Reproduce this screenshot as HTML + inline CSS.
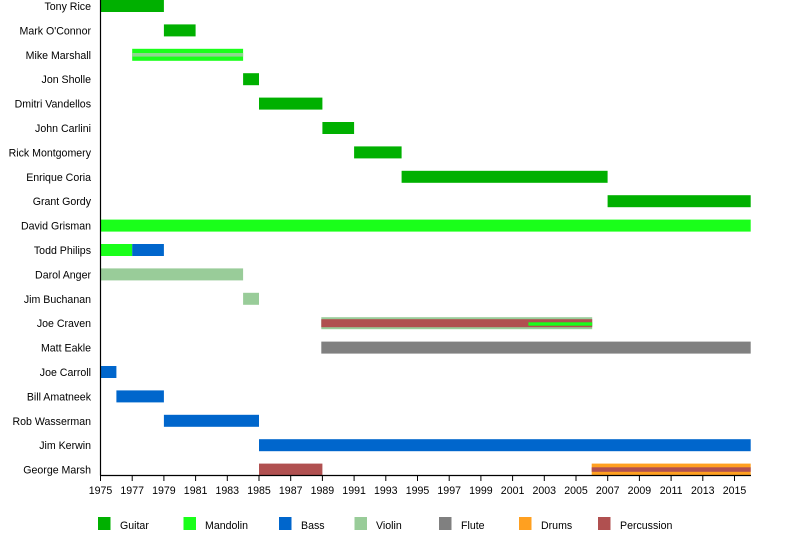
<!DOCTYPE html>
<html><head><meta charset="utf-8"><style>
html,body{margin:0;padding:0;background:#fff;}
svg{display:block;font-family:"Liberation Sans",sans-serif;}
</style></head><body>
<svg width="800" height="535" viewBox="0 0 800 535" xmlns="http://www.w3.org/2000/svg">
<g font-size="10.6" fill="#000" text-anchor="end">
<text x="91" y="10">Tony Rice</text>
<text x="91" y="34.4">Mark O'Connor</text>
<text x="91" y="58.8">Mike Marshall</text>
<text x="91" y="83.2">Jon Sholle</text>
<text x="91" y="107.6">Dmitri Vandellos</text>
<text x="91" y="132">John Carlini</text>
<text x="91" y="156.4">Rick Montgomery</text>
<text x="91" y="180.8">Enrique Coria</text>
<text x="91" y="205.2">Grant Gordy</text>
<text x="91" y="229.6">David Grisman</text>
<text x="91" y="254">Todd Philips</text>
<text x="91" y="278.4">Darol Anger</text>
<text x="91" y="302.8">Jim Buchanan</text>
<text x="91" y="327.2">Joe Craven</text>
<text x="91" y="351.6">Matt Eakle</text>
<text x="91" y="376">Joe Carroll</text>
<text x="91" y="400.4">Bill Amatneek</text>
<text x="91" y="424.8">Rob Wasserman</text>
<text x="91" y="449.2">Jim Kerwin</text>
<text x="91" y="473.6">George Marsh</text>
</g>
<g>
<rect x="100.5" y="0" width="63.4" height="12" fill="#00b000"/>
<rect x="163.9" y="24.4" width="31.7" height="12" fill="#00b000"/>
<rect x="132.2" y="48.8" width="110.9" height="12" fill="#1aff1a"/>
<rect x="132.2" y="53" width="110.9" height="3.6" fill="#8fd68f"/>
<rect x="243.1" y="73.2" width="15.9" height="12" fill="#00b000"/>
<rect x="259" y="97.6" width="63.4" height="12" fill="#00b000"/>
<rect x="322.4" y="122" width="31.7" height="12" fill="#00b000"/>
<rect x="354.1" y="146.4" width="47.5" height="12" fill="#00b000"/>
<rect x="401.6" y="170.8" width="206" height="12" fill="#00b000"/>
<rect x="607.6" y="195.2" width="143.1" height="12" fill="#00b000"/>
<rect x="100.5" y="219.6" width="650.2" height="12" fill="#1aff1a"/>
<rect x="100.5" y="244" width="31.7" height="12" fill="#1aff1a"/>
<rect x="132.2" y="244" width="31.7" height="12" fill="#0066cc"/>
<rect x="100.5" y="268.4" width="142.6" height="12" fill="#99cc99"/>
<rect x="243.1" y="292.8" width="15.9" height="12" fill="#99cc99"/>
<rect x="321.3" y="317.2" width="270.9" height="12" fill="#99cc99"/>
<rect x="321.3" y="319.2" width="270.9" height="8" fill="#b05050"/>
<rect x="528.4" y="322.3" width="63.8" height="3.4" fill="#1aff1a"/>
<rect x="321.3" y="341.6" width="429.4" height="12" fill="#808080"/>
<rect x="100.5" y="366" width="15.9" height="12" fill="#0066cc"/>
<rect x="116.4" y="390.4" width="47.5" height="12" fill="#0066cc"/>
<rect x="163.9" y="414.8" width="95.1" height="12" fill="#0066cc"/>
<rect x="259" y="439.2" width="491.7" height="12" fill="#0066cc"/>
<rect x="259" y="463.6" width="63.4" height="12" fill="#b05050"/>
<rect x="591.7" y="463.6" width="159" height="12" fill="#ffa020"/>
<rect x="591.7" y="467.3" width="159" height="4.5" fill="#b05050"/>
</g>
<g stroke="#000" stroke-width="1.2">
<line x1="100.5" y1="0" x2="100.5" y2="475.5"/>
<line x1="100" y1="475.5" x2="751" y2="475.5"/>
</g>
<g font-size="10.6">
<rect x="98" y="517" width="12.5" height="13" fill="#00b000"/><text x="120" y="529">Guitar</text>
<rect x="183.5" y="517" width="12.5" height="13" fill="#1aff1a"/><text x="205" y="529">Mandolin</text>
<rect x="279" y="517" width="12.5" height="13" fill="#0066cc"/><text x="301" y="529">Bass</text>
<rect x="354.5" y="517" width="12.5" height="13" fill="#99cc99"/><text x="376" y="529">Violin</text>
<rect x="439" y="517" width="12.5" height="13" fill="#808080"/><text x="461" y="529">Flute</text>
<rect x="519" y="517" width="12.5" height="13" fill="#ffa020"/><text x="541" y="529">Drums</text>
<rect x="598" y="517" width="12.5" height="13" fill="#b05050"/><text x="620" y="529">Percussion</text>
</g>
<g stroke="#000">
<line x1="100.5" y1="475" x2="100.5" y2="481"/><line x1="132.2" y1="475" x2="132.2" y2="481"/><line x1="163.9" y1="475" x2="163.9" y2="481"/><line x1="195.6" y1="475" x2="195.6" y2="481"/><line x1="227.3" y1="475" x2="227.3" y2="481"/><line x1="259" y1="475" x2="259" y2="481"/><line x1="290.7" y1="475" x2="290.7" y2="481"/><line x1="322.4" y1="475" x2="322.4" y2="481"/><line x1="354.1" y1="475" x2="354.1" y2="481"/><line x1="385.8" y1="475" x2="385.8" y2="481"/><line x1="417.5" y1="475" x2="417.5" y2="481"/><line x1="449.2" y1="475" x2="449.2" y2="481"/><line x1="480.9" y1="475" x2="480.9" y2="481"/><line x1="512.6" y1="475" x2="512.6" y2="481"/><line x1="544.3" y1="475" x2="544.3" y2="481"/><line x1="576" y1="475" x2="576" y2="481"/><line x1="607.7" y1="475" x2="607.7" y2="481"/><line x1="639.4" y1="475" x2="639.4" y2="481"/><line x1="671.1" y1="475" x2="671.1" y2="481"/><line x1="702.8" y1="475" x2="702.8" y2="481"/><line x1="734.5" y1="475" x2="734.5" y2="481"/>
</g>
<g font-size="10.6" text-anchor="middle">
<text x="100.5" y="494">1975</text><text x="132.2" y="494">1977</text><text x="163.9" y="494">1979</text><text x="195.6" y="494">1981</text><text x="227.3" y="494">1983</text><text x="259" y="494">1985</text><text x="290.7" y="494">1987</text><text x="322.4" y="494">1989</text><text x="354.1" y="494">1991</text><text x="385.8" y="494">1993</text><text x="417.5" y="494">1995</text><text x="449.2" y="494">1997</text><text x="480.9" y="494">1999</text><text x="512.6" y="494">2001</text><text x="544.3" y="494">2003</text><text x="576" y="494">2005</text><text x="607.7" y="494">2007</text><text x="639.4" y="494">2009</text><text x="671.1" y="494">2011</text><text x="702.8" y="494">2013</text><text x="734.5" y="494">2015</text>
</g>
</svg>
</body></html>
